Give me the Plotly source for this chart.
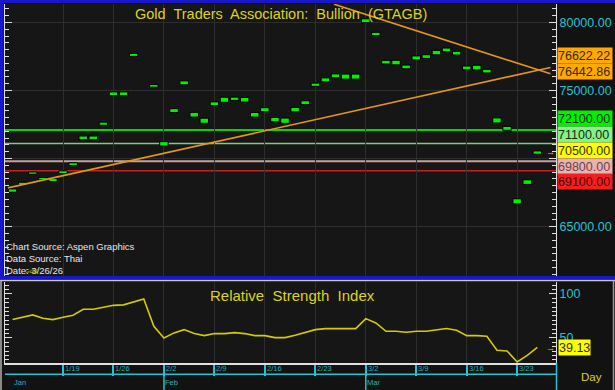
import pandas as pd
import plotly.graph_objects as go

W, H = 615, 390

# ---------------- data ----------------
trade_dates = pd.bdate_range("2026-01-12", "2026-03-25")

price_mid = [67650, 68150, 68930, 68520, 68420, 69000, 69590, 71520, 71520, 72560,
             74760, 74760, 77610, 83500, 75340, 71080, 73520, 75560, 73220, 72780,
             74030, 74320, 74390, 74320, 73220, 73590, 72860, 72780, 73590, 74100,
             75420, 75780, 76080, 76020, 76020, 80120, 79150, 77080, 77050, 76730,
             77390, 77490, 77780, 77980, 77740, 76660, 76680, 76420, 72800, 72220,
             66860, 68270, 70440]

body_span = [240, 220, 170, 170, 220, 200, 200, 270, 270, 220,
             270, 270, 220, 300, 200, 320, 290, 290, 340, 370,
             270, 370, 240, 340, 340, 290, 320, 390, 320, 290,
             240, 290, 270, 370, 370, 290, 240, 270, 340, 270,
             290, 270, 320, 270, 270, 270, 340, 270, 370, 290,
             370, 340, 240]

rsi_values = [70.8, 73.8, 76.1, 72.3, 70.8, 73.4, 75.7, 82.5, 82.5, 84.8,
              87.0, 87.5, 90.9, 94.3, 63.2, 50.0, 55.7, 59.4, 54.9, 52.6,
              54.9, 54.9, 56.0, 54.9, 52.6, 52.6, 50.3, 50.3, 53.0, 56.0,
              59.4, 60.6, 60.6, 60.6, 60.6, 71.9, 67.0, 57.5, 57.5, 56.4,
              57.5, 57.5, 59.0, 60.6, 58.7, 52.6, 52.6, 51.8, 35.9, 35.2,
              22.7, 30.2, 39.13]

level_values = [72100, 71100, 69800, 69100]

trend_up_x = [-0.46, 53.3]
trend_up_y = [67845, 76691]
trend_dn_x = [31.85, 53.3]
trend_dn_y = [81338, 76221]

week_labels = ["1/19", "1/26", "2/2", "2/9", "2/16", "2/23", "3/2", "3/9", "3/16", "3/23"]
month_labels = ["Jan", "Feb", "Mar"]
month_numbers = [1, 2, 3]

price_tick_vals = [65000, 70000, 75000, 80000]
price_tick_text = ["65000.00", "", "75000.00", "80000.00"]
rsi_tick_vals = [50, 100]
rsi_tick_text = ["50", "100"]

tag_values = [76622.22, 76442.86, 72100.00, 71100.00, 70500.00, 69800.00, 69100.00]
rsi_last = 39.13

title_main = "Gold  Traders  Association:  Bullion  (GTAGB)"
title_rsi = "Relative  Strength  Index"
info_lines = ["Chart Source: Aspen Graphics", "Data Source: Thai", "Date: 3/26/26"]

# ---------------- styles ----------------
FONT = "Liberation Sans, Arial, sans-serif"
YEL = "#dcd414"
CYAN = "#20c4d4"
TEAL = "#28b0bc"
GRID = "#2e2e2e"
level_colors = ["#00d800", "#78d078", "#c8a0a0", "#c82020"]
level_widths = [2, 1.5, 2, 1.5]
tag_bg = ["#ffa800", "#ffa800", "#00f000", "#88f088", "#ffff00", "#f0b0b0", "#f02020"]
tag_fg = ["#3a2800", "#3a2800", "#063006", "#103010", "#303000", "#604848", "#500000"]
tag_shift = [13.3, -0.2, 11.3, 9.2, 1.6, -4.9, -11.1]


def px(p):
    return p / W


def py(p):
    return 1 - p / H


idx = list(range(len(trade_dates)))
date_key = {f"{d.month}/{d.day}": i for i, d in enumerate(trade_dates)}
week_idx = [date_key[w] for w in week_labels]
month_idx = [next(i for i, d in enumerate(trade_dates) if d.month == m) for m in month_numbers]

x_rng = [-0.75, 53.85]

fig = go.Figure()

fig.add_trace(go.Bar(
    x=idx, y=body_span, base=[m - s / 2 for m, s in zip(price_mid, body_span)],
    width=0.84, marker=dict(color="#00f000", line=dict(color="#000000", width=1)),
    xaxis="x", yaxis="y", hoverinfo="skip"))

for tx, ty in ((trend_up_x, trend_up_y), (trend_dn_x, trend_dn_y)):
    fig.add_trace(go.Scatter(x=tx, y=ty, mode="lines",
                             line=dict(color="#e0961c", width=1.6),
                             xaxis="x", yaxis="y", hoverinfo="skip"))

fig.add_trace(go.Scatter(x=idx, y=rsi_values, mode="lines",
                         line=dict(color="#d4cc00", width=1.6),
                         xaxis="x2", yaxis="y2", hoverinfo="skip"))

shapes = []
for v, c, w in zip(level_values, level_colors, level_widths):
    shapes.append(dict(type="line", xref="x domain", yref="y", x0=0, x1=1, y0=v, y1=v,
                       line=dict(color=c, width=w), layer="below"))

# frame decorations
shapes += [
    dict(type="rect", xref="paper", yref="paper", x0=0, x1=1, y0=py(3), y1=1,
         fillcolor="#1818c8", line_width=0),
    dict(type="rect", xref="paper", yref="paper", x0=0, x1=px(3.5), y0=py(278), y1=1,
         fillcolor="#1818c8", line_width=0),
    dict(type="rect", xref="paper", yref="paper", x0=0, x1=1, y0=py(279), y1=py(276),
         fillcolor="#1818c8", line_width=0),
    dict(type="line", xref="paper", yref="paper", x0=0, x1=1, y0=py(280.5), y1=py(280.5),
         line=dict(color="#c8c8c8", width=1.5)),
    dict(type="line", xref="paper", yref="paper", x0=px(1), x1=px(1), y0=0, y1=py(280.5),
         line=dict(color="#b0b0b0", width=1.5)),
    dict(type="line", xref="paper", yref="paper", x0=px(613.5), x1=px(613.5), y0=0, y1=py(280.5),
         line=dict(color="#9a9a9a", width=1.5)),
    dict(type="line", xref="paper", yref="paper", x0=px(5), x1=px(556), y0=py(374.3), y1=py(374.3),
         line=dict(color=CYAN, width=1.5)),
    dict(type="line", xref="paper", yref="paper", x0=px(556.5), x1=px(556.5), y0=0, y1=py(363),
         line=dict(color=CYAN, width=1.5)),
]
for mi in month_idx[1:]:
    shapes.append(dict(type="line", xref="x2", yref="paper", x0=mi, x1=mi, y0=0, y1=py(374),
                       line=dict(color=CYAN, width=1.5)))

ann = []


def add_text(text, x, y, xref="paper", yref="paper", xanchor="center", **kw):
    d = dict(text=text, x=x, y=y, xref=xref, yref=yref, xanchor=xanchor,
             yanchor="middle", showarrow=False)
    d.update(kw)
    ann.append(d)


add_text(title_main, px(281), py(14), font=dict(family=FONT, size=14.5, color=YEL))
add_text(title_rsi, px(292), py(295), font=dict(family=FONT, size=15, color=YEL))
for k, line in enumerate(info_lines):
    add_text(line, px(4), py(246.5 + 12 * k), xanchor="left",
             font=dict(family=FONT, size=9.5, color="#e8e8e8"))
add_text("Gold", px(23), py(271), xanchor="left", font=dict(family=FONT, size=6, color="#c8c000"))

for v, bg, fg, sh in zip(tag_values, tag_bg, tag_fg, tag_shift):
    add_text(f"{v:.2f}", px(557), v, yref="y", xanchor="left", yshift=sh,
             width=54, height=15, align="left", bgcolor=bg, borderpad=0,
             font=dict(family=FONT, size=12.5, color=fg))
add_text("→", px(550), tag_values[4], yref="y", font=dict(size=9, color="#e0d000"))
add_text(f"{rsi_last:.2f}", px(557.5), rsi_last, yref="y2", xanchor="left",
         width=31, height=15, align="left", bgcolor="#ffff00", borderpad=0,
         font=dict(family=FONT, size=12.5, color="#303000"))
add_text("→", px(550), rsi_last, yref="y2", font=dict(size=9, color="#e0d000"))

for w, wi in zip(week_labels, week_idx):
    add_text(w, wi, py(368.5), xref="x2", xanchor="left", xshift=0,
             font=dict(family=FONT, size=7.5, color=TEAL))
for m, mi in zip(month_labels, month_idx):
    add_text(m, mi, py(382), xref="x2", xanchor="left", xshift=-1,
             font=dict(family=FONT, size=7.5, color=TEAL))
add_text("Day", px(591), py(377), font=dict(family=FONT, size=11.5, color=YEL))

x_dom = [px(5), px(556)]
fig.update_layout(
    width=W, height=H, margin=dict(l=0, r=0, t=0, b=0),
    paper_bgcolor="#121212", plot_bgcolor="#161616",
    showlegend=False, shapes=shapes, annotations=ann,
    xaxis=dict(domain=x_dom, range=x_rng, anchor="y", tickmode="array", tickvals=week_idx,
               showticklabels=False, ticks="", showgrid=True, gridcolor=GRID,
               zeroline=False, showline=False),
    yaxis=dict(domain=[py(276), py(4)], range=[61375, 81350], side="right", anchor="x",
               tickmode="array", tickvals=price_tick_vals, ticktext=price_tick_text,
               tickfont=dict(family=FONT, size=12.5, color=CYAN),
               showgrid=True, gridcolor=GRID, zeroline=False,
               ticks="inside", ticklen=7, tickcolor="#e0e0e0", tickwidth=1,
               showline=True, linecolor="#e0e0e0", linewidth=1, mirror="ticks",
               minor=dict(dtick=500, tick0=0, ticks="inside", ticklen=4,
                          tickcolor="#e0e0e0", showgrid=False)),
    xaxis2=dict(domain=x_dom, range=x_rng, anchor="y2", tickmode="array", tickvals=week_idx,
                showticklabels=False, ticks="outside", ticklen=11, tickcolor=CYAN, tickwidth=1.5,
                showgrid=True, gridcolor=GRID, zeroline=False,
                showline=True, linecolor="#e0e0e0", linewidth=1.5),
    yaxis2=dict(domain=[py(363), py(282)], range=[21.5, 113.5], side="right", anchor="x2",
                tickmode="array", tickvals=rsi_tick_vals, ticktext=rsi_tick_text,
                tickfont=dict(family=FONT, size=12.5, color=CYAN),
                showgrid=False, zeroline=False,
                ticks="inside", ticklen=7, tickcolor="#e0e0e0",
                showline=True, linecolor="#e0e0e0", linewidth=1, mirror="ticks",
                minor=dict(dtick=5, tick0=0, ticks="inside", ticklen=4,
                           tickcolor="#e0e0e0", showgrid=False)),
)

fig.write_html("out.html", config={"displayModeBar": False},
               post_script="document.body.style.margin='0';document.body.style.overflow='hidden';")
